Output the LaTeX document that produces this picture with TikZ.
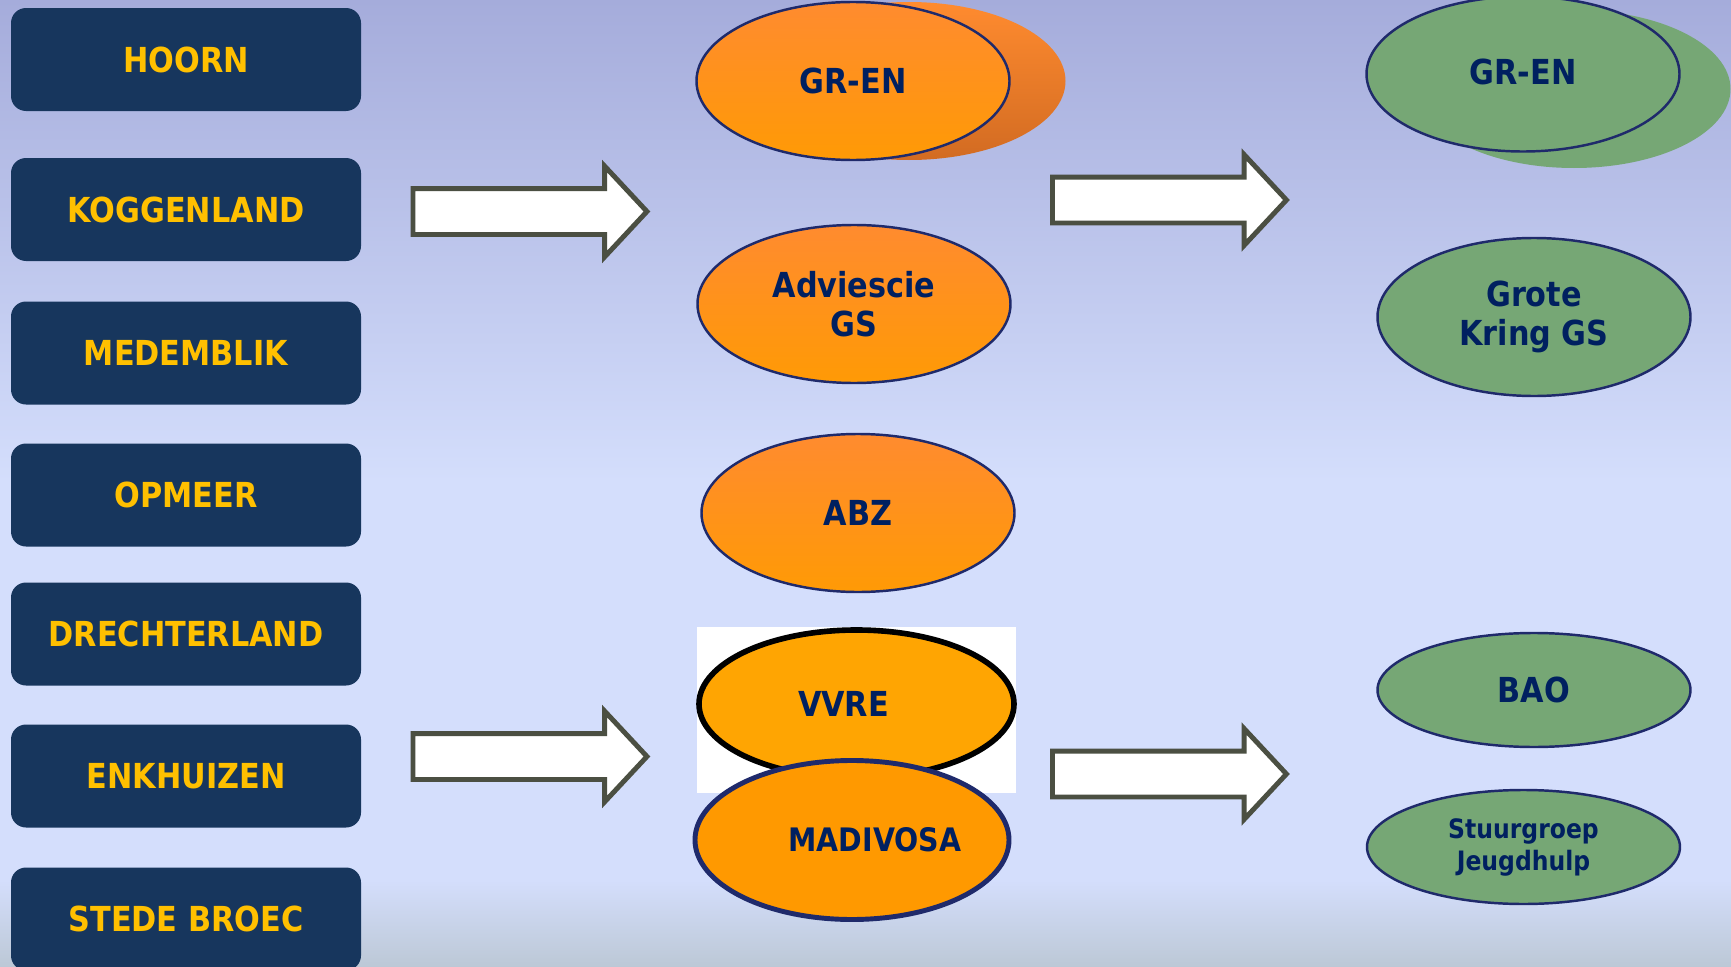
\documentclass[tikz,border=0pt]{standalone}
\usepackage{fontspec}
\newfontfamily\tahoma[FakeStretch=0.88]{DejaVu Sans}
\usetikzlibrary{positioning,shapes.geometric,shapes.arrows}
\definecolor{bgtop}{HTML}{A5ACDB}
\definecolor{bgmid}{HTML}{D4DEFC}
\definecolor{bgbot}{HTML}{BCC8D6}
\definecolor{boxnavy}{HTML}{17365D}
\definecolor{boxyellow}{HTML}{FFC000}
\definecolor{textnavy}{HTML}{002060}
\definecolor{linenavy}{HTML}{1F2A6B}
\definecolor{orangetop}{HTML}{FF8B2F}
\definecolor{orangebot}{HTML}{FF9A05}
\definecolor{orangedark}{HTML}{D26B22}
\definecolor{vvreorange}{HTML}{FFA502}
\definecolor{madiorange}{HTML}{FF9900}
\definecolor{groupgreen}{HTML}{76A775}
\definecolor{arrowgray}{HTML}{4B4F42}

\begin{document}
\begin{tikzpicture}[node distance = 1.4325cm and 4cm ,on grid ,font=\tahoma\bfseries\fontsize{9.8pt}{11pt}\selectfont ,gemeente/.style ={rectangle ,rounded corners=0.15cm ,fill=boxnavy ,text=boxyellow ,minimum width=3.5cm ,minimum height=1.03cm} ,overleg/.style ={ellipse ,inner sep=0pt ,draw=linenavy ,line width=0.7pt ,text=textnavy ,minimum width=3.13cm ,minimum height=1.58cm ,align=center} ,oranje/.style ={top color=orangetop ,bottom color=orangebot} ,regio/.style ={overleg ,fill=groupgreen} ,blokpijl/.style ={single arrow ,fill=white ,draw=arrowgray ,line width=1.4pt ,inner xsep=0pt ,inner ysep=0.205cm ,single arrow head extend=0.225cm ,single arrow tip angle=94 ,minimum height=2.34cm ,anchor=tail}]
% achtergrond
\useasboundingbox (0,0) rectangle (17.31,-9.67);
\shade[top color=bgtop, bottom color=bgmid] (0,0) rectangle (17.31,-4.82);
\fill[bgmid] (0,-4.8) rectangle (17.31,-8.82);
\shade[top color=bgmid, bottom color=bgbot] (0,-8.8) rectangle (17.31,-9.67);
% gemeenten
\node[gemeente] (hoorn) at (1.86,-0.595) {HOORN};
\node[gemeente] (koggenland) [below = 1.50cm of hoorn] {KOGGENLAND};
\node[gemeente] (medemblik) [below = 1.435cm of koggenland] {MEDEMBLIK};
\node[gemeente] (opmeer) [below = 1.42cm of medemblik] {OPMEER};
\node[gemeente] (drechterland) [below = 1.39cm of opmeer] {DRECHTERLAND};
\node[gemeente] (enkhuizen) [below = 1.42cm of drechterland] {ENKHUIZEN};
\node[gemeente] (stedebroec) [below = 1.43cm of enkhuizen] {STEDE BROEC};
% pijlen
\node[blokpijl] (pijlA) at (4.105,-2.115) {};
\node[blokpijl] (pijlB) at (4.105,-7.565) {};
\node[blokpijl] (pijlC) at (10.50,-2.00) {};
\node[blokpijl] (pijlD) at (10.50,-7.74) {};
% overleggen
\node[overleg ,draw=none ,top color=orangetop ,bottom color=orangedark] (grenschaduw) at (9.09,-0.81) {};
\node[overleg ,oranje] (gren) at (8.53,-0.81) {GR-EN};
\node[overleg ,oranje] (adviescie) at (8.54,-3.04) {Adviescie\\GS};
\node[overleg ,oranje] (abz) at (8.58,-5.13) {ABZ};
\node[rectangle ,fill=white ,minimum width=3.19cm ,minimum height=1.66cm] (vvrevlak) at (8.565,-7.10) {};
\node[overleg ,fill=vvreorange ,draw=black ,line width=1.6pt ,minimum width=3.15cm ,minimum height=1.48cm] (vvre) at (8.565,-7.04) {\makebox[0pt]{VVRE\hspace{0.26cm}}};
\node[overleg ,fill=madiorange ,line width=1.4pt ,minimum width=3.14cm ,minimum height=1.59cm ,font=\tahoma\bfseries\fontsize{9.2pt}{11pt}\selectfont] (madivosa) at (8.52,-8.40) {\makebox[0pt]{\hspace{0.46cm}MADIVOSA}};
% regio
\node[regio ,draw=none] (grenregioschaduw) at (15.74,-0.89) {};
\node[regio ,minimum height=1.55cm] (grenregio) at (15.23,-0.74) {\raisebox{1.2pt}{GR-EN}};
\node[regio] (grotekring) at (15.34,-3.17) {Grote\\Kring GS};
\node[regio ,minimum height=1.14cm] (bao) at (15.34,-6.90) {BAO};
\node[regio ,minimum height=1.14cm ,font=\tahoma\bfseries\fontsize{7.6pt}{9.1pt}\selectfont] (stuurgroep) at (15.235,-8.47) {Stuurgroep\\Jeugdhulp};
\end{tikzpicture}
\end{document}
